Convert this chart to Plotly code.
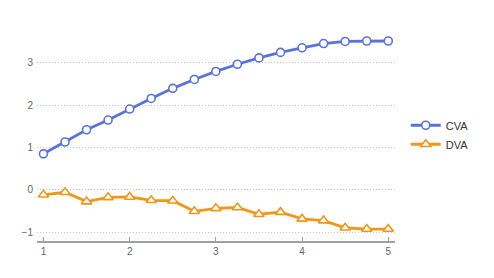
import plotly.graph_objects as go

x_vals = [1, 1.25, 1.5, 1.75, 2, 2.25, 2.5, 2.75, 3, 3.25, 3.5, 3.75, 4, 4.25, 4.5, 4.75, 5]
cva = [0.85, 1.13, 1.42, 1.65, 1.91, 2.16, 2.40, 2.61, 2.80, 2.97, 3.12, 3.25, 3.36, 3.46, 3.51, 3.52, 3.52]
dva = [-0.12, -0.06, -0.28, -0.18, -0.17, -0.25, -0.26, -0.51, -0.44, -0.42, -0.58, -0.53, -0.69, -0.73, -0.90, -0.93, -0.93]
x_ticks = [1, 2, 3, 4, 5]
y_ticks = [-1, 0, 1, 2, 3]
y_tick_text = ["\u22121", "0", "1", "2", "3"]

blue = "#5874D8"
orange = "#F0971A"

fig = go.Figure()
fig.add_trace(go.Scatter(
    x=x_vals, y=cva, name="CVA", mode="lines+markers",
    line=dict(color=blue, width=2.8),
    marker=dict(symbol="circle", size=8, color="white", line=dict(color=blue, width=1.6)),
))
fig.add_trace(go.Scatter(
    x=x_vals, y=dva, name="DVA", mode="lines+markers",
    line=dict(color=orange, width=2.8),
    marker=dict(symbol="triangle-up", size=9, color="white", line=dict(color=orange, width=1.6)),
))

fig.update_layout(
    width=494, height=278,
    margin=dict(l=37, r=99, t=10, b=37),
    paper_bgcolor="white", plot_bgcolor="white",
    font=dict(family="Liberation Sans, Arial, sans-serif", size=10, color="#666666"),
    showlegend=True,
    legend=dict(x=1.03, y=0.46, xanchor="left", yanchor="middle",
                font=dict(size=11, color="#333333"), itemwidth=30,
                bgcolor="rgba(0,0,0,0)", tracegroupgap=6),
    xaxis=dict(range=[0.925, 5.078], tickvals=x_ticks, ticktext=[str(v) for v in x_ticks],
               showgrid=False, zeroline=False, showline=True, linecolor="#a0a0a0", linewidth=1.5,
               ticks="inside", ticklen=4, tickcolor="#a0a0a0", tickwidth=1),
    yaxis=dict(range=[-1.213, 4.254], tickvals=y_ticks, ticktext=y_tick_text,
               showgrid=True, gridcolor="#c4c4c4", griddash="1px,2px", gridwidth=1,
               zeroline=False, showline=False, ticks="", ticklabelstandoff=3),
)

fig.write_html("out.html")
